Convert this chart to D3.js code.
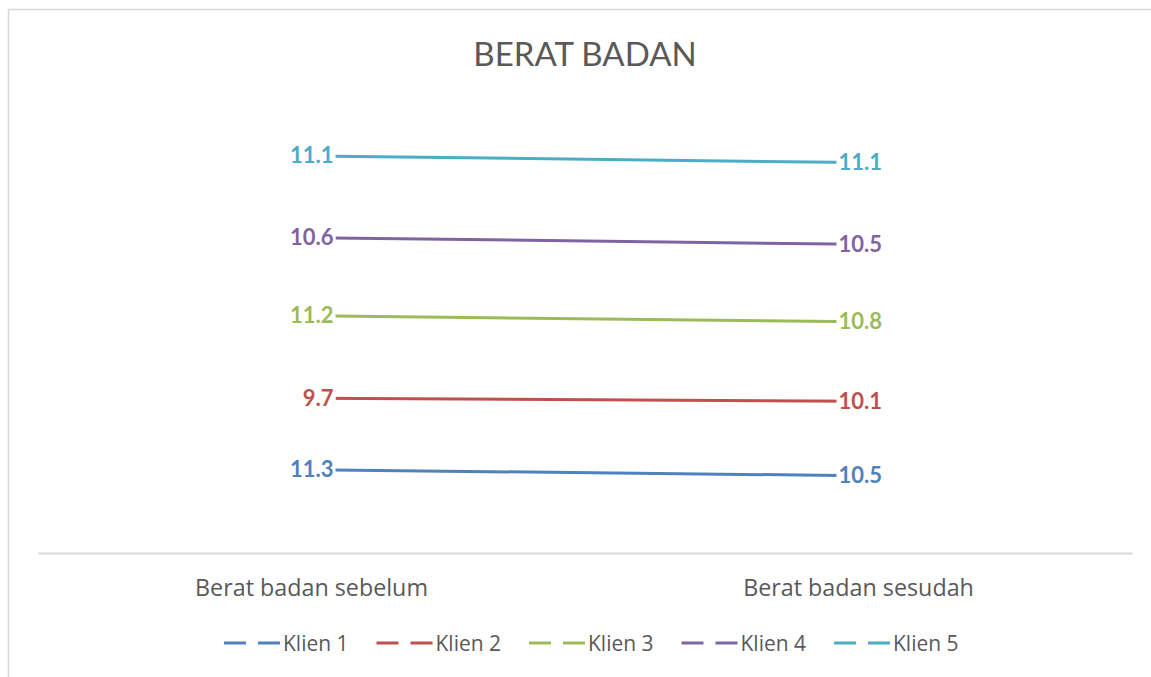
<!DOCTYPE html>
<html>
<head>
<meta charset="utf-8">
<script src="https://cdn.jsdelivr.net/npm/d3@7"></script>
<style>
  body { margin: 0; background: #fff; }
  text { font-family: Lato, "Open Sans", sans-serif; }
</style>
</head>
<body>
<script>
var width = 1151, height = 677;

// data
var categories = ["Berat badan sebelum", "Berat badan sesudah"];
var seriesNames = ["Klien 1", "Klien 2", "Klien 3", "Klien 4", "Klien 5"];
var klien1 = [11.3, 10.5];
var klien2 = [9.7, 10.1];
var klien3 = [11.2, 10.8];
var klien4 = [10.6, 10.5];
var klien5 = [11.1, 11.1];
var colors = ["#4F81BD", "#C0504D", "#9BBB59", "#8064A2", "#4BACC6"];

var allSeries = [klien1, klien2, klien3, klien4, klien5];

// stacked line: cumulative sums
var stacked = [];
allSeries.forEach(function (s, k) {
  stacked.push(s.map(function (v, i) {
    var below = k == 0 ? 0 : stacked[k - 1][i].top;
    return { value: v, top: below + v, cat: categories[i] };
  }));
});

var svg = d3.select("body").append("svg").attr("width", width).attr("height", height);

// chart border
svg.append("rect")
  .attr("x", 8.5).attr("y", 9.5)
  .attr("width", width + 10).attr("height", height + 10)
  .attr("fill", "none").attr("stroke", "#d9d9d9").attr("stroke-width", 1.5);

// title
svg.append("text")
  .attr("x", 585).attr("y", 66)
  .attr("text-anchor", "middle")
  .attr("fill", "#595959")
  .attr("font-size", 33)
  .attr("font-family", "'Open Sans', sans-serif")
  .text("BERAT BADAN");

var x = d3.scaleBand().domain(categories).range([38, 1132]);
var y = d3.scaleLinear().domain([0, 60]).range([553, 111]);

// category axis
var xAxis = svg.append("g")
  .attr("transform", "translate(0,553)")
  .call(d3.axisBottom(x).tickSize(0).tickPadding(26));
xAxis.select(".domain").attr("stroke", "#d9d9d9").attr("stroke-width", 2);
xAxis.selectAll("text")
  .attr("fill", "#595959")
  .attr("font-size", 23.3)
  .style("font-family", "'Open Sans', sans-serif");

var cx = function (d) { return x(d.cat) + x.bandwidth() / 2; };

var line = d3.line().x(cx).y(function (d) { return y(d.top); });

svg.selectAll(".series")
  .data(stacked)
  .enter()
  .append("path")
  .attr("d", line)
  .attr("fill", "none")
  .attr("stroke", function (d, i) { return colors[i]; })
  .attr("stroke-width", 3);

// data labels (white boxes)
stacked.forEach(function (s, k) {
  s.forEach(function (d, i) {
    var g = svg.append("g");
    var t = g.append("text")
      .attr("x", i == 0 ? cx(d) + 22 : cx(d) - 20)
      .attr("y", y(d.top) + 7.5)
      .attr("text-anchor", i == 0 ? "end" : "start")
      .attr("font-size", 22)
      .attr("font-weight", "bold")
      .attr("fill", colors[k])
      .text(d3.format(".1f")(d.value));
    var bb = t.node().getBBox();
    g.insert("rect", "text")
      .attr("x", bb.x - 2).attr("y", bb.y - 1)
      .attr("width", bb.width + 4).attr("height", bb.height + 2)
      .attr("fill", "#fff");
  });
});

// legend
var legend = svg.selectAll(".legend")
  .data(seriesNames)
  .enter()
  .append("g")
  .attr("transform", function (d, i) { return "translate(" + (224 + i * 152.5) + ",643)"; });

legend.append("line")
  .attr("x1", 0).attr("x2", 56)
  .attr("stroke", function (d, i) { return colors[i]; })
  .attr("stroke-width", 3)
  .attr("stroke-dasharray", "22,12");

legend.append("text")
  .attr("x", 59).attr("y", 7.5)
  .attr("fill", "#595959")
  .attr("font-size", 21)
  .style("font-family", "'Open Sans', sans-serif")
  .text(function (d) { return d; });
</script>
</body>
</html>
